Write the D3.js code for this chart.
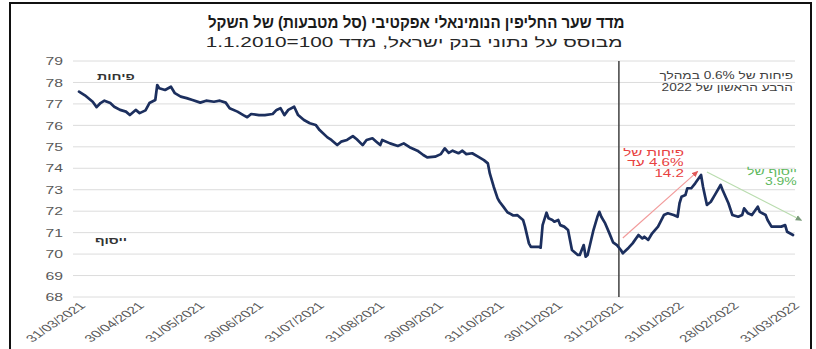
<!DOCTYPE html>
<html><head><meta charset="utf-8">
<script src="https://cdn.jsdelivr.net/npm/d3@7"></script>
<style>
html,body{margin:0;padding:0;background:#fff;}
svg{display:block;}
</style></head><body>
<svg id="chart" width="816" height="349"></svg>
<script>
// ---- texts ----
const titleText = "מדד שער החליפין הנומינאלי אפקטיבי (סל מטבעות) של השקל";
const subtitleText = "מבוסס על נתוני בנק ישראל, מדד \u20661.1.2010=100\u2069";
const noteLines = ["פיחות של 0.6% במהלך", "הרבע הראשון של 2022"];
const riseLines = ["פיחות של", "4.6% עד", "14.2"];
const fallLines = ["ייסוף של", "3.9%"];
const upLabel = "פיחות";
const downLabel = "ייסוף";

// ---- axes ----
const yTicks = [68, 69, 70, 71, 72, 73, 74, 75, 76, 77, 78, 79];
const xTickLabels = ["31/03/2021", "30/04/2021", "31/05/2021", "30/06/2021", "31/07/2021",
  "31/08/2021", "30/09/2021", "31/10/2021", "30/11/2021", "31/12/2021",
  "31/01/2022", "28/02/2022", "31/03/2022"];

// ---- series: nominal effective exchange rate index of the shekel ----
const dates = [
  "2021-03-31","2021-04-03","2021-04-07","2021-04-09","2021-04-11","2021-04-13","2021-04-16","2021-04-18",
  "2021-04-21","2021-04-24","2021-04-26","2021-04-29","2021-05-01","2021-05-04","2021-05-06","2021-05-09",
  "2021-05-10","2021-05-11","2021-05-14","2021-05-17","2021-05-19","2021-05-22","2021-05-25","2021-05-28",
  "2021-06-01","2021-06-04","2021-06-08","2021-06-11","2021-06-14","2021-06-16","2021-06-20","2021-06-23",
  "2021-06-25","2021-06-27","2021-07-01","2021-07-04","2021-07-08","2021-07-10","2021-07-12","2021-07-14",
  "2021-07-16","2021-07-19","2021-07-21","2021-07-24","2021-07-27","2021-07-30","2021-08-01","2021-08-05",
  "2021-08-07","2021-08-10","2021-08-12","2021-08-15","2021-08-18","2021-08-20","2021-08-23","2021-08-25",
  "2021-08-28","2021-08-30","2021-09-01","2021-09-02","2021-09-06","2021-09-10","2021-09-13","2021-09-16",
  "2021-09-20","2021-09-23","2021-09-25","2021-09-29","2021-10-02","2021-10-04","2021-10-06","2021-10-08",
  "2021-10-11","2021-10-13","2021-10-15","2021-10-18","2021-10-21","2021-10-24","2021-10-26","2021-10-27",
  "2021-10-29","2021-10-31","2021-11-01","2021-11-03","2021-11-05","2021-11-08","2021-11-10","2021-11-13",
  "2021-11-14","2021-11-16","2021-11-17","2021-11-21","2021-11-22","2021-11-23","2021-11-25","2021-11-26",
  "2021-11-28","2021-11-29","2021-12-01","2021-12-02","2021-12-04","2021-12-06","2021-12-08","2021-12-11",
  "2021-12-12","2021-12-14","2021-12-15","2021-12-16","2021-12-19","2021-12-21","2021-12-22","2021-12-23",
  "2021-12-25","2021-12-27","2021-12-29","2021-12-31","2022-01-02","2022-01-03","2022-01-06","2022-01-08",
  "2022-01-11","2022-01-13","2022-01-14","2022-01-16","2022-01-18","2022-01-21","2022-01-24","2022-01-26",
  "2022-01-29","2022-01-31","2022-02-01","2022-02-02","2022-02-04","2022-02-05","2022-02-07","2022-02-09",
  "2022-02-12","2022-02-13","2022-02-15","2022-02-17","2022-02-19","2022-02-22","2022-02-23","2022-02-26",
  "2022-02-28","2022-03-03","2022-03-05","2022-03-06","2022-03-08","2022-03-10","2022-03-13","2022-03-14",
  "2022-03-17","2022-03-18","2022-03-20","2022-03-23","2022-03-25","2022-03-27","2022-03-28","2022-03-31"
];
const values = [
  77.57,77.40,77.10,76.85,77.04,77.15,77.04,76.87,
  76.72,76.64,76.48,76.72,76.57,76.70,77.04,77.18,
  77.88,77.73,77.65,77.80,77.50,77.34,77.27,77.18,
  77.06,77.15,77.10,77.15,77.06,76.80,76.64,76.48,
  76.38,76.53,76.48,76.48,76.53,76.72,76.80,76.48,
  76.72,76.87,76.48,76.25,76.10,76.02,75.78,75.44,
  75.32,75.08,75.24,75.32,75.50,75.35,75.08,75.32,
  75.40,75.24,75.08,75.32,75.16,75.04,75.16,74.98,
  74.82,74.62,74.51,74.54,74.66,74.93,74.72,74.82,
  74.70,74.82,74.66,74.70,74.54,74.38,74.23,73.76,
  73.14,72.60,72.44,72.20,71.95,71.80,71.82,71.59,
  71.28,70.50,70.34,70.34,70.30,71.35,71.93,71.67,
  71.59,71.51,71.59,71.35,71.28,71.12,70.19,69.96,
  69.96,70.42,69.88,69.96,71.12,71.74,71.97,71.74,
  71.43,71.00,70.55,70.42,70.19,70.04,70.30,70.50,
  70.89,70.73,70.81,70.66,70.97,71.28,71.82,71.90,
  71.82,71.74,72.37,72.67,72.75,73.07,73.07,73.30,
  73.69,73.14,72.29,72.44,72.75,73.22,72.99,72.37,
  71.82,71.74,71.82,72.13,71.90,71.82,72.21,71.97,
  71.82,71.59,71.28,71.28,71.28,71.35,71.04,70.89
];

// ---- annotation anchors (date, index level) ----
const quarterStart = "2022-01-01";
const riseArrow = [["2022-01-03", 70.75], ["2022-02-10", 73.83]];
const fallArrow = [["2022-02-15", 73.83], ["2022-04-04", 71.59]];

// ---- drawing ----
const FONT = "'Liberation Sans', Arial, 'DejaVu Sans', sans-serif";
const SX = 1.5;               // horizontal stretch of the small labels
const W = 816, H = 349;
const parseISO = d3.timeParse("%Y-%m-%d");
const parseTick = d3.timeParse("%d/%m/%Y");

const series = dates.map((d, i) => ({ date: parseISO(d), value: values[i] }));
const tickDates = xTickLabels.map(parseTick);

const svg = d3.select("#chart");
svg.append("rect").attr("width", W).attr("height", H).attr("fill", "#fff");

const x = d3.scaleTime().domain([tickDates[0], tickDates[tickDates.length - 1]]).range([79, 793]);
const y = d3.scaleLinear().domain([68, 79]).range([297, 61]);

// outer frame
svg.append("rect").attr("x", 10).attr("y", 3).attr("width", 801).attr("height", 370)
  .attr("fill", "none").attr("stroke", "#111").attr("stroke-width", 2);

// text helper: lines placed by visual alignment, optional horizontal stretch
function label(parent, lines, o) {
  const g = parent.append("g")
    .attr("transform", `translate(${o.x},${o.y}) scale(${o.sx || 1},1)`);
  lines.forEach((s, i) => {
    const t = g.append("text")
      .attr("y", i * (o.lh || 0))
      .attr("font-family", FONT)
      .attr("font-size", o.size)
      .attr("font-weight", o.weight || "normal")
      .attr("fill", o.fill)
      .attr("direction", "rtl")
      .text(s);
    const b = t.node().getBBox();
    const dx = o.align === "right" ? -(b.x + b.width)
             : o.align === "center" ? -(b.x + b.width / 2) : -b.x;
    t.attr("x", dx);
  });
  return g;
}

// title line stretched to a given width
function fitted(text, cx, cyBase, width, size, weight, fill) {
  const g = svg.append("g");
  const t = g.append("text").attr("font-family", FONT).attr("font-size", size)
    .attr("font-weight", weight).attr("fill", fill).attr("direction", "rtl").text(text);
  const b = t.node().getBBox();
  const k = width / b.width;
  t.attr("x", -(b.x + b.width / 2));
  g.attr("transform", `translate(${cx},${cyBase}) scale(${k},1)`);
}

fitted(titleText, 416, 28, 417, 16, "bold", "#1a1a1a");
fitted(subtitleText, 414, 47, 417, 14, "normal", "#262626");

// gridlines
svg.append("g").selectAll("line").data(yTicks).join("line")
  .attr("x1", x.range()[0] - 6).attr("x2", x.range()[1] + 2)
  .attr("y1", d => y(d)).attr("y2", d => y(d))
  .attr("stroke", "#dcdcdc").attr("stroke-width", 1);

// y axis
const gy = svg.append("g").attr("transform", "translate(63,0)")
  .call(d3.axisLeft(y).tickValues(yTicks).tickSize(0).tickPadding(0).tickFormat(d3.format("d")));
gy.select(".domain").remove();
gy.attr("font-family", FONT).attr("font-size", 10.5);
gy.selectAll("text").attr("x", 0).attr("dy", "0.35em").attr("fill", "#595959")
  .attr("transform", `scale(${SX},1)`);

// x axis
const gx = svg.append("g").attr("transform", `translate(0,${y(68) + 7})`)
  .call(d3.axisBottom(x).tickValues(tickDates).tickSize(0).tickFormat((d, i) => xTickLabels[i]));
gx.select(".domain").remove();
gx.attr("font-family", FONT).attr("font-size", 10.2);
gx.selectAll("text").attr("text-anchor", "end").attr("x", 0).attr("y", 0).attr("dy", "0.35em")
  .attr("fill", "#595959")
  .attr("transform", `translate(3,0) scale(${SX},1) rotate(-45)`);

// start-of-quarter divider
svg.append("line")
  .attr("x1", x(parseISO(quarterStart))).attr("x2", x(parseISO(quarterStart)))
  .attr("y1", y(79)).attr("y2", y(68))
  .attr("stroke", "#404040").attr("stroke-width", 1.5);

// arrows
const defs = svg.append("defs");
function marker(id, color) {
  defs.append("marker").attr("id", id).attr("viewBox", "0 0 8 8").attr("refX", 6).attr("refY", 4)
    .attr("markerWidth", 6).attr("markerHeight", 6).attr("orient", "auto")
    .append("path").attr("d", "M0,0.5 L8,4 L0,7.5 Z").attr("fill", color);
}
marker("headRise", "#e05a5a");
marker("headFall", "#7a9a7a");
function arrow(pts, color, head) {
  svg.append("line")
    .attr("x1", x(parseISO(pts[0][0]))).attr("y1", y(pts[0][1]))
    .attr("x2", x(parseISO(pts[1][0]))).attr("y2", y(pts[1][1]))
    .attr("stroke", color).attr("stroke-width", 1.1)
    .attr("marker-end", `url(#${head})`);
}
arrow(riseArrow, "#f29a9a", "headRise");
arrow(fallArrow, "#b9dcae", "headFall");

// index line
const line = d3.line().x(d => x(d.date)).y(d => y(d.value));
svg.append("path").datum(series).attr("d", line)
  .attr("fill", "none").attr("stroke", "#1c2f5e").attr("stroke-width", 2.7)
  .attr("stroke-linejoin", "round").attr("stroke-linecap", "round");

// annotations
label(svg, noteLines, { x: 793, y: 79, lh: 12, size: 10.5, fill: "#404040", align: "right", sx: 1.3 });
label(svg, riseLines, { x: 684, y: 156, lh: 10.5, size: 10.5, fill: "#e8413f", align: "right", sx: 1.45 });
label(svg, fallLines, { x: 797, y: 175, lh: 10.5, size: 10, fill: "#5cb85c", align: "right", sx: 1.4 });
label(svg, [upLabel], { x: 116, y: 80, size: 9.5, weight: "bold", fill: "#333", align: "center", sx: SX });
label(svg, [downLabel], { x: 111, y: 244, size: 9.5, weight: "bold", fill: "#333", align: "center", sx: SX });
</script>
</body></html>
